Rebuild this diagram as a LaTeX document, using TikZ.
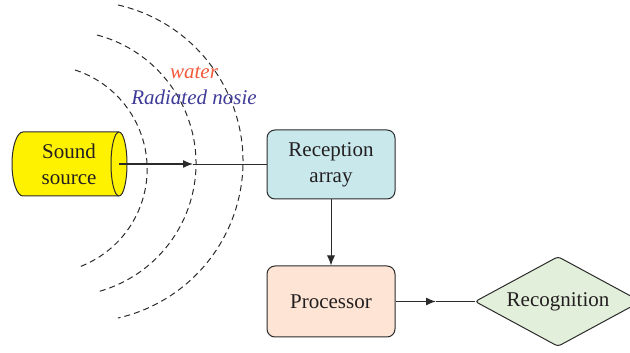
\documentclass[tikz,border=0pt]{standalone}
\usepackage{fontspec}
\setmainfont{Liberation Serif}
\usetikzlibrary{arrows.meta,shapes.geometric}
\definecolor{txt}{HTML}{231F20}
\definecolor{linec}{HTML}{2B2B2B}
\definecolor{yel}{HTML}{FFF200}
\definecolor{recfill}{HTML}{C9E8EC}
\definecolor{profill}{HTML}{FDE4D4}
\definecolor{grnfill}{HTML}{E2EFDA}
\definecolor{waterc}{HTML}{F15A3B}
\definecolor{radc}{HTML}{3F3B98}
\tikzset{
  lbl/.style={text=txt, font=\fontsize{21}{26}\selectfont, align=center, inner sep=0pt},
  box/.style={lbl, draw=linec, line width=1pt, rounded corners=8pt, minimum width=128pt},
  wave/.style={draw=linec, line width=1pt, dash pattern=on 6pt off 4pt},
  conn/.style={draw=linec, line width=0.8pt},
  connhead/.style={draw=linec, line width=1.3pt, -{Latex[length=10pt,width=8pt]}},
}
\begin{document}
\begin{tikzpicture}[x=1pt,y=1pt]
\useasboundingbox (0,0) rectangle (630,353);
\clip (0,0) rectangle (630,353);
% sound source cylinder
\filldraw[fill=yel, draw=linec, line width=1pt]
  (23,221) -- (119,221) arc[start angle=90, end angle=-90, x radius=8pt, y radius=32pt]
  -- (23,157) arc[start angle=270, end angle=90, x radius=11pt, y radius=32pt] -- cycle;
\draw[draw=linec, line width=1pt] (119,221) arc[start angle=90, end angle=270, x radius=8pt, y radius=32pt];
\node[lbl] (src) at (69,189) {Sound\\source};
\coordinate (srcend) at (119,189);
% radiating waves
\draw[wave] (42.85,183.8) ++(72:104.3pt) arc[start angle=72, end angle=-69.7, radius=104.3pt];
\draw[wave] (63.1,189.5) ++(75.2:132.9pt) arc[start angle=75.2, end angle=-75.2, radius=132.9pt];
\draw[wave] (82.5,191.5) ++(77.2:160.5pt) arc[start angle=77.2, end angle=-77.2, radius=160.5pt];
% labels
\node[lbl, text=waterc, font=\fontsize{21}{26}\selectfont\itshape, anchor=base] (water) at (194,274) {water};
\node[lbl, text=radc, font=\fontsize{21}{26}\selectfont\itshape, anchor=base] (rad) at (194,248) {Radiated nosie};
% boxes
\node[box, fill=recfill, minimum height=69pt] (rec) at (331,188.5) {Reception\\array};
\node[box, fill=profill, minimum height=71pt] (pro) at (331,51.5) {Processor};
\node[lbl, diamond, aspect=1.85, draw=linec, line width=1pt, fill=grnfill, rounded corners=3pt,
      minimum width=166pt, minimum height=90pt] (recog) at (558,51.5) {Recognition};
% connectors
\coordinate (m1) at (193,189);
\coordinate (m2) at (436,51.5);
\draw[connhead] (srcend) -- (m1);
\draw[conn] (m1) -- (rec.west |- m1);
\draw[draw=linec, line width=1pt, -{Latex[length=10pt,width=8pt]}] (rec.south) -- (pro.north);
\draw[connhead] (pro.east) -- (m2);
\draw[conn] (m2) -- (recog.west);
\end{tikzpicture}
\end{document}
